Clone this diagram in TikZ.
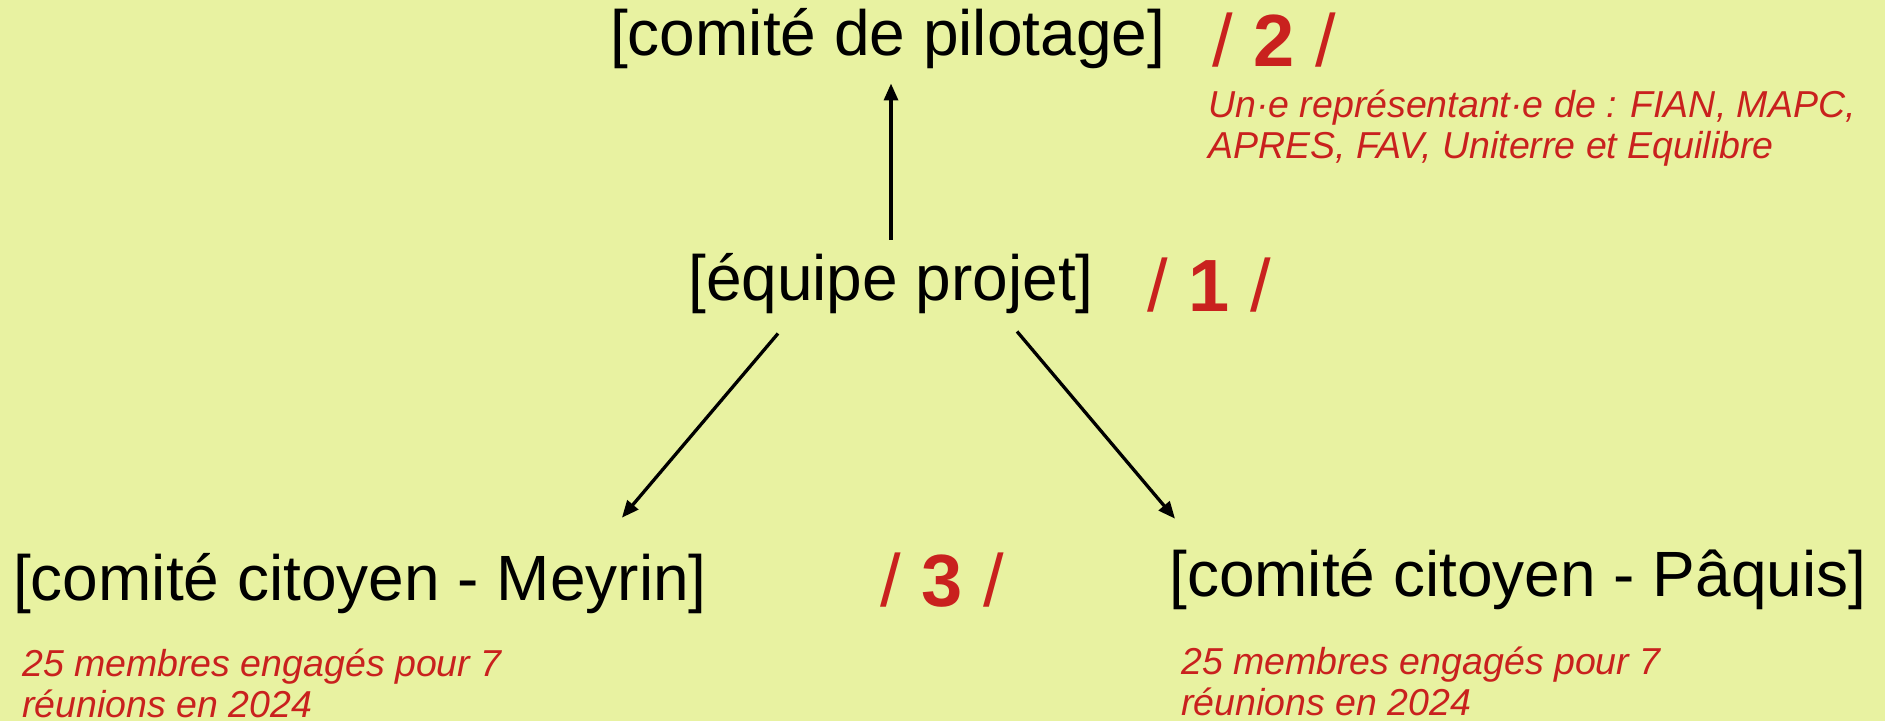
\documentclass[tikz,border=0pt]{standalone}
\usepackage{fontspec}
\setmainfont{Liberation Sans}
\usetikzlibrary{arrows.meta}
\definecolor{bg}{RGB}{232,242,161}
\definecolor{rd}{RGB}{201,33,30}
\begin{document}
\begin{tikzpicture}[x=1pt,y=-1pt,
  lbl/.style={inner sep=0pt, anchor=base west, font=\fontsize{64}{77}\selectfont},
  num/.style={inner sep=0pt, anchor=base west, text=rd, font=\fontsize{74}{88}\selectfont},
  note/.style={inner sep=0pt, anchor=base west, text=rd, font=\fontsize{37.5}{41}\selectfont\itshape},
  arr/.style={line width=3.3pt, -{Triangle[length=17pt,width=14pt]}}]
\fill[bg] (0,0) rectangle (1885,721);
\useasboundingbox (0,0) rectangle (1885,721);
\node[lbl] (pilotage) at (610,55) {[comité de pilotage]};
\node[num] (n2) at (1212,66) {/ \textbf{2} /};
\node[note] (note1a) at (1208,117) {Un·e représentant·e de : FIAN, MAPC,};
\node[note] (note1b) at (1208,158) {APRES, FAV, Uniterre et Equilibre};
\node[lbl] (equipe) at (688,300) {[équipe projet]};
\node[num] (n1) at (1147,311) {/ \textbf{1} /};
\node[lbl] (meyrin) at (13,600) {[comité citoyen - Meyrin]};
\node[num] (n3) at (880,606) {/ \textbf{3} /};
\node[lbl] (paquis) at (1169,596) {[comité citoyen - Pâquis]};
\node[note] (note2a) at (22,676) {25 membres engagés pour 7};
\node[note] (note2b) at (22,717) {réunions en 2024};
\node[note] (note3a) at (1181,674) {25 membres engagés pour 7};
\node[note] (note3b) at (1181,715) {réunions en 2024};
\draw[arr, shorten <=13pt, shorten >=15pt] (equipe.north) -- (equipe.north |- pilotage.south);
\draw[arr] ([shift={(90,20)}]equipe.south west) -- ([shift={(-85,-35)}]meyrin.north east);
\draw[arr] ([shift={(-77,18)}]equipe.south east) -- ([shift={(6,-30)}]paquis.north west);
\end{tikzpicture}
\end{document}
